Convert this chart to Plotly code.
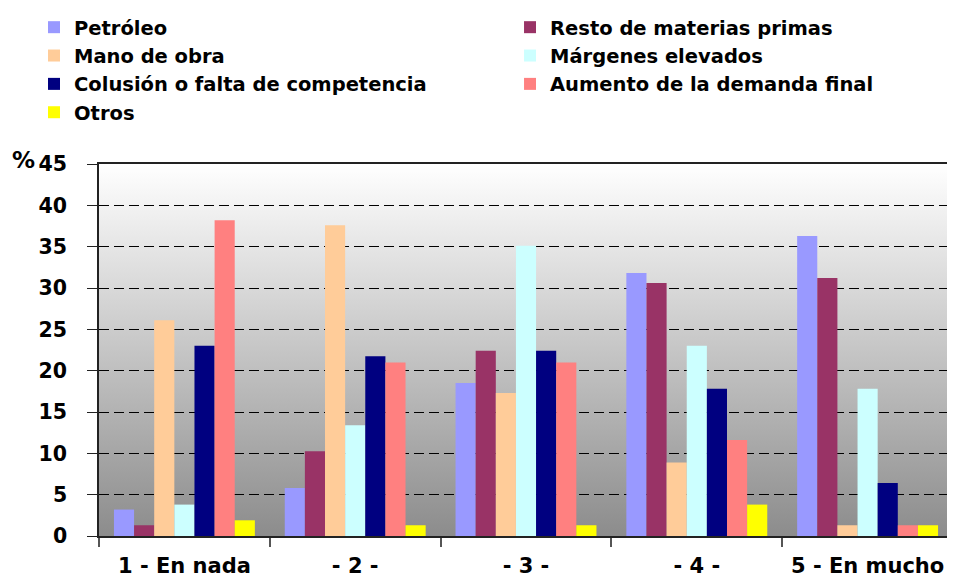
import base64
import plotly.graph_objects as go

categories = ["1 - En nada", "- 2 -", "- 3 -", "- 4 -", "5 - En mucho"]

series_names = [
    "Petróleo",
    "Resto de materias primas",
    "Mano de obra",
    "Márgenes elevados",
    "Colusión o falta de competencia",
    "Aumento de la demanda final",
    "Otros",
]

petroleo = [3.2, 5.8, 18.5, 31.8, 36.3]
resto_materias = [1.3, 10.25, 22.4, 30.6, 31.2]
mano_obra = [26.1, 37.6, 17.3, 8.9, 1.3]
margenes = [3.8, 13.4, 35.1, 23.0, 17.8]
colusion = [23.0, 21.75, 22.4, 17.8, 6.4]
aumento_demanda = [38.2, 21.0, 21.0, 11.6, 1.3]
otros = [1.9, 1.3, 1.3, 3.8, 1.3]

series_values = [petroleo, resto_materias, mano_obra, margenes, colusion, aumento_demanda, otros]
colors = ["#9999FF", "#993366", "#FFCC99", "#CCFFFF", "#000080", "#FF8080", "#FFFF00"]
legend_ids = ["legend", "legend2", "legend", "legend2", "legend", "legend2", "legend"]

y_ticks = [0, 5, 10, 15, 20, 25, 30, 35, 40, 45]

FONT = "DejaVu Sans, Arial, sans-serif"

fig = go.Figure()
for i, (name, vals) in enumerate(zip(series_names, series_values)):
    fig.add_trace(go.Bar(
        x=categories, y=vals, name=name,
        marker=dict(color=colors[i], line=dict(width=0)),
        legend=legend_ids[i],
        legendgroup=name,
    ))

# vertical gradient background (white at top to grey at bottom) as an SVG image
svg = (
    "<svg xmlns='http://www.w3.org/2000/svg' width='100' height='100' preserveAspectRatio='none'>"
    "<defs><linearGradient id='g' x1='0' y1='0' x2='0' y2='1'>"
    "<stop offset='0' stop-color='#ffffff'/>"
    "<stop offset='1' stop-color='#8c8c8c'/>"
    "</linearGradient></defs>"
    "<rect x='0' y='0' width='100' height='100' fill='url(#g)'/></svg>"
)
bg_src = "data:image/svg+xml;base64," + base64.b64encode(svg.encode()).decode()

legend_common = dict(
    font=dict(family=FONT, size=19.5, color="black", weight="bold"),
    bgcolor="rgba(0,0,0,0)",
    orientation="v",
    traceorder="normal",
    tracegroupgap=0,
    yref="container",
    yanchor="top",
    xanchor="left",
    itemclick=False,
)

fig.update_layout(
    width=947, height=576,
    margin=dict(l=91, r=2, t=156, b=48, autoexpand=False),
    paper_bgcolor="white",
    plot_bgcolor="rgba(0,0,0,0)",
    barmode="group",
    bargap=0.175,
    bargroupgap=0,
    images=[dict(
        source=bg_src, xref="paper", yref="paper", x=0, y=1,
        sizex=1, sizey=1, sizing="stretch", xanchor="left", yanchor="top",
        layer="below",
    )],
    font=dict(family=FONT, color="black"),
    showlegend=True,
    legend=dict(x=-0.0761, y=1.011, **legend_common),
    legend2=dict(x=0.4813, y=1.011, **legend_common),
    annotations=[dict(
        text="%", xref="paper", yref="paper", x=0, y=1,
        xshift=-75.5, yshift=4, showarrow=False,
        xanchor="center", yanchor="middle",
        font=dict(family=FONT, size=23, color="black", weight="bold"),
    )],
)

fig.update_yaxes(
    range=[0, 45], tickvals=y_ticks, ticktext=[str(v) for v in y_ticks],
    showgrid=True, gridcolor="black", gridwidth=1, griddash="10px,5px",
    zeroline=False,
    showline=True, linecolor="#222", linewidth=1.5, mirror=True,
    ticks="outside", ticklen=10, tickcolor="#222", tickwidth=1,
    ticklabelstandoff=16,
    tickfont=dict(family=FONT, size=20.5, color="black", weight="bold"),
)
fig.update_xaxes(
    showgrid=False, zeroline=False,
    showline=True, linecolor="#222", linewidth=1.5, mirror=True,
    ticks="outside", tickson="boundaries", ticklen=9, tickcolor="#555", tickwidth=1.5,
    ticklabelstandoff=10,
    tickfont=dict(family=FONT, size=21, color="black", weight="bold"),
)

fig.write_html("out.html")
